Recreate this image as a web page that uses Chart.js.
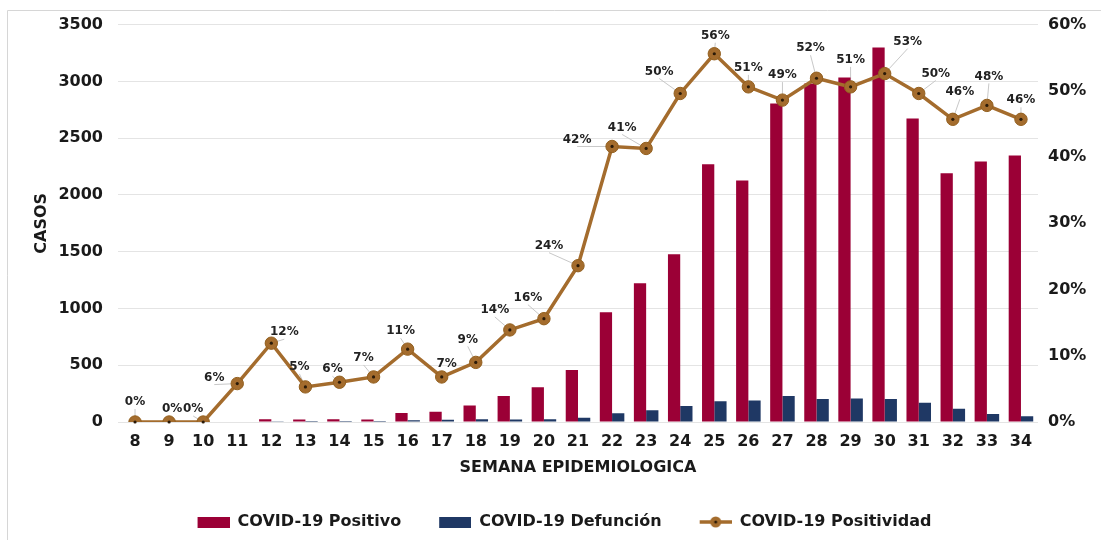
<!DOCTYPE html>
<html><head><meta charset="utf-8">
<script src="https://cdn.jsdelivr.net/npm/chart.js@4.4.0/dist/chart.umd.min.js"></script>
<style>html,body{margin:0;padding:0;background:#fff;}#wrap{width:1101px;height:540px;}</style>
</head><body><div id="wrap"><canvas id="c" width="1101" height="540"></canvas></div>
<script>
// ---- data ----
const weeks = ['8','9','10','11','12','13','14','15','16','17','18','19','20','21','22','23','24','25','26','27','28','29','30','31','32','33','34'];
const positivos = [0,0,0,5,25,22,25,23,80,90,145,230,305,457,967,1222,1477,2269,2128,2805,2981,3034,3298,2673,2190,2295,2348];
const defunciones = [0,0,0,0,2,8,8,8,15,20,25,22,25,38,76,103,141,182,190,229,202,208,202,170,117,70,50];
const positividad = [0,0,0,5.8,11.9,5.3,6.0,6.8,11.0,6.8,9.0,13.9,15.6,23.6,41.6,41.3,49.6,55.6,50.6,48.6,51.9,50.6,52.6,49.6,45.7,47.8,45.7];
const casosTicks = [0,500,1000,1500,2000,2500,3000,3500];
const pctTicks = [0,10,20,30,40,50,60];
const seriesNames = ['COVID-19 Positivo','COVID-19 Defunción','COVID-19 Positividad'];

// ---- styles ----
const RED = '#9B0036', BLUE = '#1F3864', BROWN = '#A46C2D';
const FONT = "'DejaVu Sans', sans-serif";
// label offsets (dx, dy) relative to each point, for the % data labels
const labelOffsets = [[0,-20],[3,-13],[-10,-13],[-23,-6],[13,-11],[-6,-20],[-7,-13],[-10,-19],[-7,-18],[5,-13],[-8,-23],[-15,-20],[-16,-21],[-29,-20],[-35,-7],[-24,-21],[-21,-22],[1,-18],[0,-19],[0,-25],[-6,-30],[0,-27],[23,-32],[17,-20],[7,-27],[2,-29],[0,-19]];

Chart.defaults.font.family = FONT;
Chart.defaults.color = '#1a1a1a';

function boxImg(color){
  const c=document.createElement('canvas'); c.width=60; c.height=14;
  const g=c.getContext('2d'); g.fillStyle=color; g.fillRect(28,2,32,11); return c;
}
function lineImg(){
  const c=document.createElement('canvas'); c.width=60; c.height=14;
  const g=c.getContext('2d'); g.strokeStyle=BROWN; g.lineWidth=3.5;
  g.beginPath(); g.moveTo(28,7); g.lineTo(60,7); g.stroke();
  g.fillStyle=BROWN; g.beginPath(); g.arc(44,7,5.5,0,Math.PI*2); g.fill();
  g.fillStyle='#2a1a08'; g.beginPath(); g.arc(44,7,1.5,0,Math.PI*2); g.fill();
  return c;
}

const framePlugin = {
  id:'frame',
  beforeDraw(chart){
    const ctx=chart.ctx; ctx.save();
    ctx.fillStyle='#fff'; ctx.fillRect(0,0,chart.width,chart.height);
    ctx.strokeStyle='#d6d6d6'; ctx.lineWidth=1;
    ctx.beginPath(); ctx.moveTo(7.5,chart.height); ctx.lineTo(7.5,10.5); ctx.lineTo(chart.width,10.5); ctx.stroke();
    ctx.restore();
  }
};

const labelPlugin = {
  id:'pctLabels',
  beforeDatasetsDraw(chart){
    const meta=chart.getDatasetMeta(0), ctx=chart.ctx; ctx.save();
    ctx.strokeStyle='#c8c8c8'; ctx.lineWidth=1;
    meta.data.forEach((pt,i)=>{
      const [dx,dy]=labelOffsets[i]; const lx=pt.x+dx, ly=pt.y+dy+7;
      const d=Math.hypot(pt.x-lx,pt.y-ly); if(d<9) return;
      ctx.beginPath(); ctx.moveTo(lx,ly); ctx.lineTo(pt.x,pt.y); ctx.stroke();
    });
    ctx.restore();
  },
  afterDatasetsDraw(chart){
    const meta=chart.getDatasetMeta(0), ctx=chart.ctx; ctx.save();
    meta.data.forEach((pt)=>{
      ctx.fillStyle='#2a1a08'; ctx.beginPath(); ctx.arc(pt.x,pt.y,1.6,0,Math.PI*2); ctx.fill();
    });
    ctx.font="bold 12px "+FONT; ctx.fillStyle='#222'; ctx.textAlign='center'; ctx.textBaseline='middle';
    meta.data.forEach((pt,i)=>{
      const [dx,dy]=labelOffsets[i];
      ctx.fillText(Math.round(positividad[i])+'%', pt.x+dx, pt.y+dy);
    });
    ctx.restore();
  }
};

new Chart(document.getElementById('c'), {
  type:'bar',
  data:{
    labels:weeks,
    datasets:[
      {type:'line', label:seriesNames[2], data:positividad, yAxisID:'y1', borderColor:BROWN, borderWidth:3.5,
       pointRadius:6.2, pointBackgroundColor:BROWN, pointBorderColor:'#93601f', pointBorderWidth:1, tension:0, order:-1},
      {label:seriesNames[0], data:positivos, backgroundColor:RED, yAxisID:'y', categoryPercentage:0.72, barPercentage:1.0},
      {label:seriesNames[1], data:defunciones, backgroundColor:BLUE, yAxisID:'y', categoryPercentage:0.72, barPercentage:1.0}
    ]
  },
  options:{
    responsive:false, animation:false, devicePixelRatio:1,
    layout:{padding:{top:22,left:0,right:0,bottom:0}},
    plugins:{
      tooltip:{enabled:false},
      legend:{
        position:'bottom',
        labels:{
          usePointStyle:true, pointStyleWidth:60, padding:10,
          font:{size:16, weight:'bold'}, color:'#1a1a1a',
          generateLabels(chart){
            const imgs=[boxImg(RED), boxImg(BLUE), lineImg()];
            const idx=[1,2,0];
            return seriesNames.map((n,k)=>({text:n, pointStyle:imgs[k], fillStyle:'transparent', strokeStyle:'transparent', lineWidth:0, hidden:false, datasetIndex:idx[k], fontColor:'#1a1a1a'}));
          }
        }
      }
    },
    scales:{
      x:{
        grid:{display:false, drawTicks:false}, border:{display:false},
        ticks:{font:{size:16, weight:'bold'}, padding:10, color:'#1a1a1a', maxRotation:0, autoSkip:false},
        title:{display:true, text:'SEMANA EPIDEMIOLOGICA', font:{size:16, weight:'bold'}, color:'#1a1a1a', padding:{top:0,bottom:27}},
        afterFit(s){ s.height=82; }
      },
      y:{
        position:'left', min:0, max:3500,
        afterBuildTicks(s){ s.ticks = casosTicks.map(v=>({value:v})); },
        grid:{color:'#e4e4e4', drawTicks:false, lineWidth:1}, border:{display:false},
        ticks:{font:{size:16, weight:'bold'}, padding:15, color:'#1a1a1a', callback:v=>String(v)},
        title:{display:true, text:'CASOS', font:{size:16, weight:'bold'}, color:'#1a1a1a', padding:{top:32,bottom:0}},
        afterFit(s){ s.width=118; }
      },
      y1:{
        position:'right', min:0, max:60,
        afterBuildTicks(s){ s.ticks = pctTicks.map(v=>({value:v})); },
        grid:{display:false, drawTicks:false}, border:{display:false},
        ticks:{font:{size:16, weight:'bold'}, padding:10, color:'#1a1a1a', callback:v=>v+'%'},
        afterFit(s){ s.width=63; }
      }
    }
  },
  plugins:[framePlugin, labelPlugin]
});
</script></body></html>
